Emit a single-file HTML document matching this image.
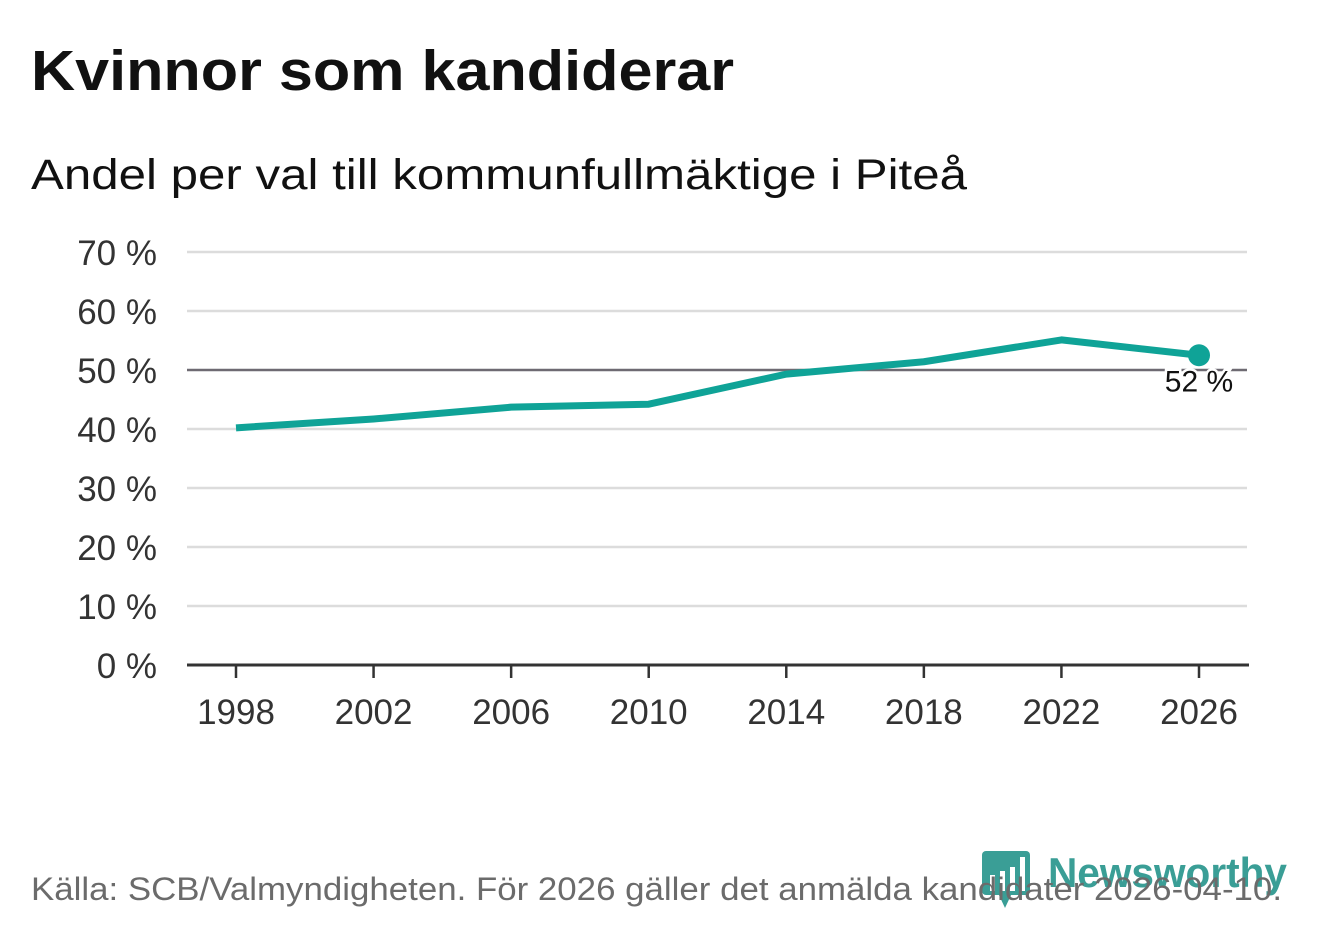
<!DOCTYPE html>
<html><head><meta charset="utf-8"><style>
body{margin:0;background:#fff;width:1322px;height:939px;overflow:hidden;font-family:"Liberation Sans",sans-serif}
</style></head><body>
<svg width="1322" height="939" xmlns="http://www.w3.org/2000/svg">
<text x="31" y="90" font-size="57" font-weight="bold" fill="#111" textLength="703" lengthAdjust="spacingAndGlyphs">Kvinnor som kandiderar</text>
<text x="31" y="189" font-size="43" fill="#111" textLength="936" lengthAdjust="spacingAndGlyphs">Andel per val till kommunfullmäktige i Piteå</text>
<g id="grid"></g>
<g id="axes"></g>
<g id="series"></g>
<g>
<rect x="982" y="851" width="48" height="44" rx="4" fill="#3a9e96"/>
<path d="M998 893 L1012 893 L1005 908 Z" fill="#3a9e96"/>
<rect x="990" y="875" width="5" height="16" fill="#fff"/><rect x="1000" y="871" width="5" height="20" fill="#fff"/><rect x="1010" y="867" width="5" height="24" fill="#fff"/><rect x="1020" y="857" width="5" height="34" fill="#fff"/>
<text x="1048" y="887" font-size="42" font-weight="bold" fill="#3a9e96" textLength="239" lengthAdjust="spacingAndGlyphs">Newsworthy</text>
</g>
<text x="31" y="900" font-size="32" fill="#6b6b6b" textLength="1251" lengthAdjust="spacingAndGlyphs">Källa: SCB/Valmyndigheten. För 2026 gäller det anmälda kandidater 2026-04-10.</text>
</svg>
<script>
const years=[1998,2002,2006,2010,2014,2018,2022,2026];
const values=[40.2,41.7,43.7,44.2,49.3,51.4,55.1,52.5];
const yTicks=[0,10,20,30,40,50,60,70];
const lastLabel="52 %";
const NS="http://www.w3.org/2000/svg";
function x(v){return 236+(v-1998)/28*963;}
function y(v){return 665-v*5.9;}
function mk(t,a,p,txt){const e=document.createElementNS(NS,t);for(const k in a)e.setAttribute(k,a[k]);if(txt!==undefined)e.textContent=txt;p.appendChild(e);return e;}
const g=document.getElementById('grid'),ax=document.getElementById('axes'),s=document.getElementById('series');
yTicks.forEach(t=>{
 if(t>0){const l=mk('line',{x1:187,x2:1247,y1:y(t),y2:y(t),stroke:t===50?'#6e6a72':'#dcdcdc','stroke-width':2.5},g);
 
 }
 const tx=mk('text',{x:157,y:y(t)+13,'text-anchor':'end','font-size':35,fill:'#333'},ax,t+' %');
 
 
});
const base=mk('line',{x1:187,x2:1249,y1:665,y2:665,stroke:'#333','stroke-width':3},ax);


years.forEach(v=>{
 mk('line',{x1:x(v),x2:x(v),y1:665,y2:678,stroke:'#333','stroke-width':2.5},ax);
 const tx=mk('text',{x:x(v),y:724,'text-anchor':'middle','font-size':35,fill:'#333'},ax,v);
 
 
});
const pts=years.map((v,i)=>x(v)+','+y(values[i])).join(' ');
const pl=mk('polyline',{points:pts,fill:'none',stroke:'#0fa397','stroke-width':7,'stroke-linejoin':'round'},s);


const n=years.length-1;
const dot=mk('circle',{cx:x(years[n]),cy:y(values[n]),r:11,fill:'#0fa397'},s);


const lab=mk('text',{x:x(years[n]),y:y(values[n])+36,'text-anchor':'middle','font-size':30,fill:'#111',stroke:'#fff','stroke-width':5,'paint-order':'stroke'},s,lastLabel);


</script>
</body></html>
